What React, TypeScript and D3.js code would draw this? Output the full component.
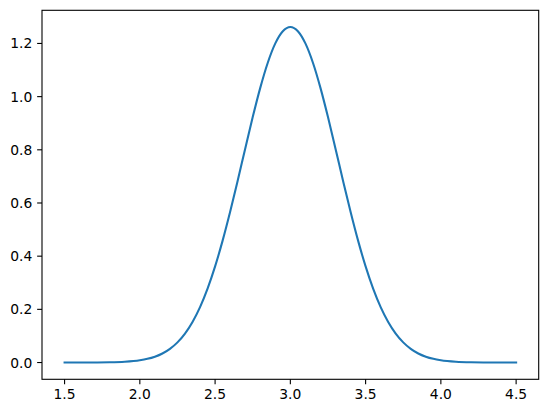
import React from "react";
import * as d3 from "d3";

const xValues = [
  1.5, 1.6, 1.7, 1.8, 1.9, 2.0, 2.05, 2.1, 2.15, 2.2, 2.25, 2.3, 2.35, 2.4, 2.45, 2.5,
  2.55, 2.6, 2.65, 2.7, 2.75, 2.8, 2.85, 2.9, 2.95, 3.0, 3.05, 3.1, 3.15, 3.2, 3.25,
  3.3, 3.35, 3.4, 3.45, 3.5, 3.55, 3.6, 3.65, 3.7, 3.75, 3.8, 3.85, 3.9, 3.95, 4.0,
  4.1, 4.2, 4.3, 4.4, 4.5,
];
const yValues = [
  0.0, 0.0001, 0.0003, 0.0009, 0.003, 0.0085, 0.0138, 0.022, 0.034, 0.0514, 0.0758,
  0.1089, 0.1526, 0.2085, 0.278, 0.3615, 0.4584, 0.5669, 0.6838, 0.8044, 0.923, 1.0329,
  1.1274, 1.2001, 1.2459, 1.2616, 1.2459, 1.2001, 1.1274, 1.0329, 0.923, 0.8044, 0.6838,
  0.5669, 0.4584, 0.3615, 0.278, 0.2085, 0.1526, 0.1089, 0.0758, 0.0514, 0.034, 0.022,
  0.0138, 0.0085, 0.003, 0.0009, 0.0003, 0.0001, 0.0,
];
const xTicks = [1.5, 2.0, 2.5, 3.0, 3.5, 4.0, 4.5];
const yTicks = [0.0, 0.2, 0.4, 0.6, 0.8, 1.0, 1.2];

const W = 547;
const H = 413;
const left = 42;
const right = 538.7;
const top = 10.3;
const bottom = 379.3;

export default function App() {
  const x = d3.scaleLinear().domain([1.35, 4.65]).range([left, right]);
  const y = d3.scaleLinear().domain([-0.06308, 1.32468]).range([bottom, top]);
  const pts: [number, number][] = xValues.map((v, i) => [v, yValues[i]]);
  const line = d3
    .line<[number, number]>()
    .x((d) => x(d[0]))
    .y((d) => y(d[1]))
    .curve(d3.curveMonotoneX);
  const font = "DejaVu Sans, sans-serif";
  return (
    <svg
      width={W}
      height={H}
      style={{ position: "absolute", left: 0, top: 0, background: "#fff" }}
    >
      <path d={line(pts) || ""} fill="none" stroke="#1f77b4" strokeWidth={2.08} strokeLinecap="square" />
      <rect
        x={left}
        y={top}
        width={right - left}
        height={bottom - top}
        fill="none"
        stroke="#000"
        strokeWidth={1.1}
      />
      {xTicks.map((t) => (
        <g key={"x" + t}>
          <line x1={x(t)} x2={x(t)} y1={bottom} y2={bottom + 4.86} stroke="#000" strokeWidth={1.1} />
          <text
            x={x(t)}
            y={bottom + 4.86 + 4.86 + 10.2}
            textAnchor="middle"
            fontFamily={font}
            fontSize={13.89}
            fill="#000"
          >
            {t.toFixed(1)}
          </text>
        </g>
      ))}
      {yTicks.map((t) => (
        <g key={"y" + t}>
          <line x1={left - 4.86} x2={left} y1={y(t)} y2={y(t)} stroke="#000" strokeWidth={1.1} />
          <text
            x={left - 9.72}
            y={y(t)}
            dy="0.36em"
            textAnchor="end"
            fontFamily={font}
            fontSize={13.89}
            fill="#000"
          >
            {t.toFixed(1)}
          </text>
        </g>
      ))}
    </svg>
  );
}
